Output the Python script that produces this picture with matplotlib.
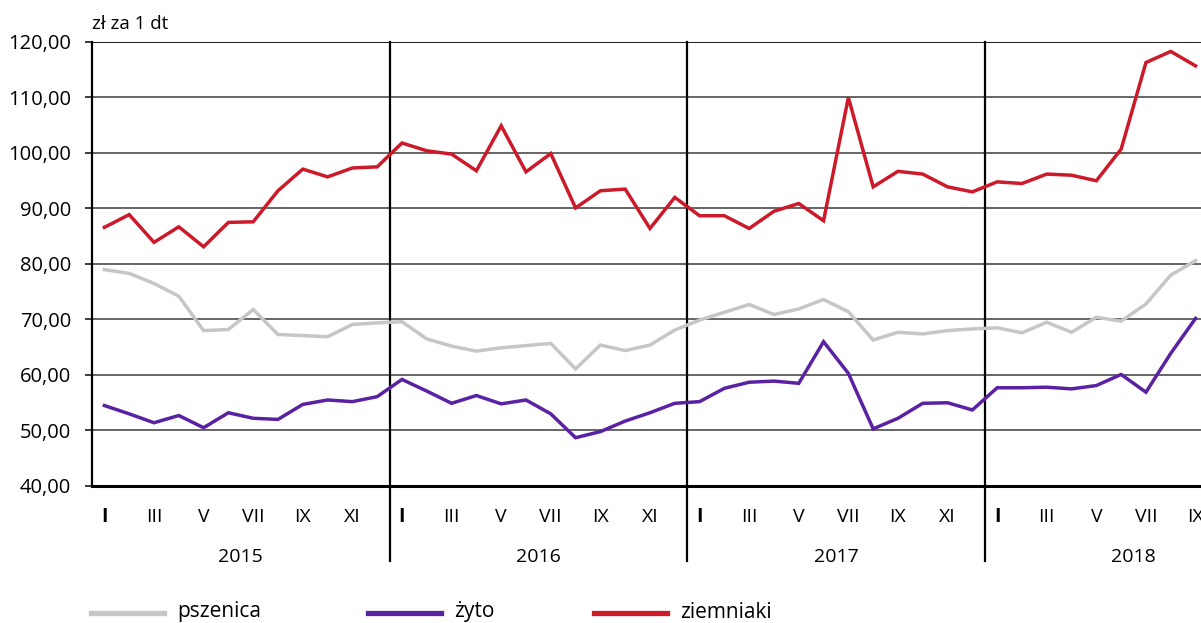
import numpy as np
import matplotlib
matplotlib.use("Agg")
import matplotlib.pyplot as plt
from matplotlib.lines import Line2D
import matplotlib.transforms as mtransforms

plt.rcParams['font.family'] = ['Open Sans', 'DejaVu Sans']

# ----- data (monthly, I 2015 - IX 2018) -----
years = ['2015', '2016', '2017', '2018']
month_labels = ['I', '', 'III', '', 'V', '', 'VII', '', 'IX', '', 'XI', '']

pszenica = [79.0, 78.3, 76.5, 74.2, 68.0, 68.2, 71.8, 67.3, 67.1, 66.9, 69.1, 69.4,
            69.6, 66.5, 65.2, 64.3, 64.9, 65.3, 65.7, 61.1, 65.4, 64.4, 65.4, 68.1,
            69.9, 71.3, 72.7, 70.9, 71.9, 73.6, 71.4, 66.3, 67.7, 67.4, 68.0, 68.3,
            68.5, 67.6, 69.5, 67.7, 70.4, 69.7, 72.8, 78.0, 80.6]
zyto = [54.5, 53.0, 51.4, 52.7, 50.5, 53.2, 52.2, 52.0, 54.7, 55.5, 55.2, 56.1,
        59.2, 57.1, 54.9, 56.3, 54.8, 55.5, 53.0, 48.7, 49.8, 51.7, 53.2, 54.9,
        55.2, 57.6, 58.7, 58.9, 58.5, 66.0, 60.3, 50.3, 52.2, 54.9, 55.0, 53.7,
        57.7, 57.7, 57.8, 57.5, 58.1, 60.1, 56.9, 63.9, 70.2]
ziemniaki = [86.6, 88.9, 83.9, 86.7, 83.1, 87.5, 87.6, 93.2, 97.1, 95.7, 97.3, 97.5,
             101.8, 100.4, 99.8, 96.8, 104.9, 96.6, 99.9, 90.1, 93.2, 93.5, 86.4, 92.0,
             88.7, 88.7, 86.4, 89.5, 90.9, 87.8, 110.0, 93.9, 96.7, 96.2, 93.9, 93.0,
             94.8, 94.5, 96.2, 96.0, 95.0, 100.7, 116.3, 118.3, 115.7]

series = [('pszenica', pszenica, '#c6c6c6'),
          ('żyto', zyto, '#5a22a3'),
          ('ziemniaki', ziemniaki, '#cc1a2a')]

yticks = np.arange(40, 121, 10)

# ----- figure -----
fig = plt.figure(figsize=(12.01, 6.23), dpi=100)
ax = fig.add_axes([92 / 1201, 1 - 486 / 623, 1 - 92 / 1201, 444 / 623])

x = np.arange(len(pszenica))
ax.set_xlim(-0.5, 44.22)
ax.set_ylim(40, 120)

# gridlines
for v in yticks[1:-1]:
    ax.axhline(v, color='#3c3c3c', lw=1.1, zorder=1)
ax.axhline(120, color='#1a1a1a', lw=1.4, zorder=1)

for name, vals, col in series:
    ax.plot(x, vals, color=col, lw=2.5, zorder=3, solid_joinstyle='miter')

# spines
for s in ['top', 'right']:
    ax.spines[s].set_visible(False)
ax.spines['bottom'].set_linewidth(2.2)
ax.spines['left'].set_linewidth(1.6)
ax.spines['bottom'].set_zorder(4)

ax.set_yticks(yticks)
ax.set_yticklabels([f'{v:.2f}'.replace('.', ',') for v in yticks], fontsize=14.5)
ax.tick_params(axis='y', length=5, width=1.2, pad=10, color='#1a1a1a')
ax.set_xticks([])

# year separators (extend below axis)
trans = mtransforms.blended_transform_factory(ax.transData, ax.transAxes)
for i in range(1, len(years)):
    ax.plot([12 * i - 0.5] * 2, [1.0, -0.169], transform=trans, color='black',
            lw=1.6, clip_on=False, zorder=2)

# month and year labels
for yi, yr in enumerate(years):
    for m, lab in enumerate(month_labels):
        if lab:
            ax.text(12 * yi + m, -0.07, lab, transform=trans, ha='center',
                    va='center', fontsize=14,
                    fontweight='bold' if lab == 'I' else 'normal')
    ax.text(12 * yi + 5.5, -0.16, yr, transform=trans, ha='center',
            va='center', fontsize=14)

# unit label
fig.text(92 / 1201, 1 - 24 / 623, 'zł za 1 dt', ha='left', va='center', fontsize=13.5)

# legend
leg_x = [91, 368, 594]
for (name, vals, col), lx in zip(series, leg_x):
    fig.add_artist(Line2D([lx / 1201, (lx + 73) / 1201], [1 - 613 / 623] * 2,
                          color=col, lw=3.8, transform=fig.transFigure))
    fig.text((lx + 86) / 1201, 1 - 612 / 623, name, ha='left', va='center',
             fontsize=15)

fig.savefig('out.png', dpi=100)
